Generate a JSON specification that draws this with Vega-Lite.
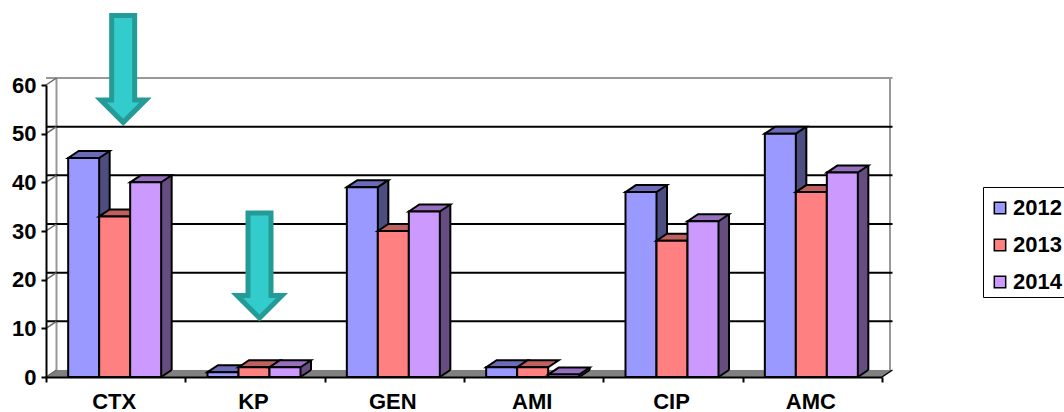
{
"$schema":"https://vega.github.io/schema/vega-lite/v6.json",
"width":836,"height":292,
"autosize":"none",
"padding":{"left":46,"top":85,"right":182,"bottom":35},
"background":"white",
"config":{"view":{"stroke":null},"font":"Liberation Sans"},
"datasets":{
"ticks":[{"v":10},{"v":20},{"v":30},{"v":40},{"v":50}],
"origin":[{"cat":"CTX","v":0}],
"arrow1":[{"cat":"CTX","v":51.6}],
"arrow2":[{"cat":"KP","v":11.4}]
},
"data":{"values":[
{"cat":"CTX","year":"2012","value":45},{"cat":"CTX","year":"2013","value":33},{"cat":"CTX","year":"2014","value":40},
{"cat":"KP","year":"2012","value":1},{"cat":"KP","year":"2013","value":2},{"cat":"KP","year":"2014","value":2},
{"cat":"GEN","year":"2012","value":39},{"cat":"GEN","year":"2013","value":30},{"cat":"GEN","year":"2014","value":34},
{"cat":"AMI","year":"2012","value":2},{"cat":"AMI","year":"2013","value":2},{"cat":"AMI","year":"2014","value":0.5},
{"cat":"CIP","year":"2012","value":38},{"cat":"CIP","year":"2013","value":28},{"cat":"CIP","year":"2014","value":32},
{"cat":"AMC","year":"2012","value":50},{"cat":"AMC","year":"2013","value":38},{"cat":"AMC","year":"2014","value":42}
]},
"encoding":{
"x":{"field":"cat","type":"nominal","sort":null,"title":null,
"scale":{"domain":["CTX","KP","GEN","AMI","CIP","AMC"],"paddingInner":0,"paddingOuter":0},
"axis":{"labelAngle":0,"labelFont":"Liberation Sans","labelFontWeight":"bold","labelFontSize":22,"labelColor":"black","labelOffset":-2,"labelPadding":9,"tickBand":"extent","tickColor":"black","tickWidth":2,"tickSize":5,"domainColor":"black","domainWidth":2,"zindex":1}},
"y":{"type":"quantitative","scale":{"domain":[0,60],"nice":false},"title":null,
"axis":{"values":[0,10,20,30,40,50,60],"labelFont":"Liberation Sans","labelFontWeight":"bold","labelFontSize":22,"labelColor":"black","labelPadding":5,"tickColor":"black","tickWidth":2,"tickSize":5,"domainColor":"black","domainWidth":2,"grid":false,"zindex":1}}
},
"layer":[
{"data":{"name":"origin"},"mark":{"type":"point","shape":"M0,0 L10.5,-7 L846.5,-7 L836,0 Z","size":4,"filled":true,"fill":"#808080","opacity":1,"strokeWidth":0},
 "encoding":{"x":{"field":"cat","type":"nominal","bandPosition":0},"y":{"field":"v","type":"quantitative"}}},
{"data":{"name":"origin"},"mark":{"type":"rule","color":"#999999","strokeWidth":2,"xOffset":10.5,"x2Offset":10.5,"yOffset":-7,"y2Offset":-7},
 "encoding":{"x":{"field":"cat","type":"nominal","bandPosition":0},"y":{"field":"v","type":"quantitative"},"y2":{"datum":60}}},
{"data":{"name":"origin"},"mark":{"type":"rule","color":"#999999","strokeWidth":2,"xOffset":844,"yOffset":-7,"y2Offset":-7},
 "encoding":{"x":{"field":"cat","type":"nominal","bandPosition":0},"y":{"field":"v","type":"quantitative"},"y2":{"datum":60}}},
{"data":{"name":"ticks"},"mark":{"type":"rule","color":"black","strokeWidth":2,"xOffset":10.5,"x2Offset":8,"yOffset":-7,"y2Offset":-7},
 "encoding":{"x":null,"y":{"field":"v","type":"quantitative"}}},
{"data":{"values":[{"v":60}]},"mark":{"type":"rule","color":"#999999","strokeWidth":2,"xOffset":10.5,"x2Offset":8,"yOffset":-7,"y2Offset":-7},
 "encoding":{"x":null,"y":{"field":"v","type":"quantitative"}}},
{"data":{"values":[{"cat":"CTX","v":0},{"cat":"CTX","v":10},{"cat":"CTX","v":20},{"cat":"CTX","v":30},{"cat":"CTX","v":40},{"cat":"CTX","v":50},{"cat":"CTX","v":60}]},
 "mark":{"type":"point","shape":"M0,0 L10.5,-7","size":4,"filled":false,"stroke":"#666666","opacity":1,"strokeWidth":1.5},
 "encoding":{"x":{"field":"cat","type":"nominal","bandPosition":0},"y":{"field":"v","type":"quantitative"}}},
{"data":{"name":"origin"},"mark":{"type":"point","shape":"M836,0 L846.5,-7","size":4,"filled":false,"stroke":"black","opacity":1,"strokeWidth":1.5},
 "encoding":{"x":{"field":"cat","type":"nominal","bandPosition":0},"y":{"field":"v","type":"quantitative"}}},

{"transform":[{"filter":"datum.year==='2012'"}],
 "encoding":{"y":{"field":"value","type":"quantitative"}},
 "layer":[
 {"mark":{"type":"bar","width":31,"fill":"#4D4D80","xOffset":-21.5,"yOffset":-7,"y2Offset":-7}},
 {"mark":{"type":"point","shape":"M15.5,-7 L26,-7 L15.5,0 Z","size":4,"filled":true,"fill":"#4D4D80","opacity":1,"strokeWidth":0,"xOffset":-32},"encoding":{"y":{"datum":0}}},
 {"mark":{"type":"point","shape":"M15.5,0 L26,-7","size":4,"filled":false,"stroke":"black","opacity":1,"strokeWidth":2,"xOffset":-32},"encoding":{"y":{"datum":0}}},
 {"mark":{"type":"rule","color":"black","strokeWidth":2,"xOffset":-6,"yOffset":-7,"y2Offset":-7},"encoding":{"y2":{"datum":0}}},
 {"mark":{"type":"point","shape":"M-15.5,0 L-5,-7 L26,-7 L15.5,0 Z","size":4,"filled":true,"fill":"#6B6BB8","stroke":"black","opacity":1,"strokeWidth":2,"xOffset":-32}},
 {"mark":{"type":"bar","width":31,"stroke":"black","strokeWidth":2,"xOffset":-32},"encoding":{"fill":{"field":"year","type":"nominal"}}}
 ]},
{"transform":[{"filter":"datum.year==='2013'"}],
 "encoding":{"y":{"field":"value","type":"quantitative"}},
 "layer":[
 {"mark":{"type":"point","shape":"M-15.5,0 L-5,-7 L26,-7 L15.5,0 Z","size":4,"filled":true,"fill":"#BF6060","stroke":"black","opacity":1,"strokeWidth":2,"xOffset":-1}},
 {"mark":{"type":"bar","width":31,"stroke":"black","strokeWidth":2,"xOffset":-1},"encoding":{"fill":{"field":"year","type":"nominal"}}}
 ]},
{"transform":[{"filter":"datum.year==='2014'"}],
 "encoding":{"y":{"field":"value","type":"quantitative"}},
 "layer":[
 {"mark":{"type":"bar","width":31,"fill":"#664D80","xOffset":40.5,"yOffset":-7,"y2Offset":-7}},
 {"mark":{"type":"point","shape":"M15.5,-7 L26,-7 L15.5,0 Z","size":4,"filled":true,"fill":"#664D80","opacity":1,"strokeWidth":0,"xOffset":30},"encoding":{"y":{"datum":0}}},
 {"mark":{"type":"point","shape":"M15.5,0 L26,-7","size":4,"filled":false,"stroke":"black","opacity":1,"strokeWidth":2,"xOffset":30},"encoding":{"y":{"datum":0}}},
 {"mark":{"type":"rule","color":"black","strokeWidth":2,"xOffset":56,"yOffset":-7,"y2Offset":-7},"encoding":{"y2":{"datum":0}}},
 {"mark":{"type":"point","shape":"M-15.5,0 L-5,-7 L26,-7 L15.5,0 Z","size":4,"filled":true,"fill":"#9670BF","stroke":"black","opacity":1,"strokeWidth":2,"xOffset":30}},
 {"mark":{"type":"bar","width":31,"stroke":"black","strokeWidth":2,"xOffset":30},"encoding":{"fill":{"field":"year","type":"nominal","scale":{"domain":["2012","2013","2014"],"range":["#9999FF","#FF8080","#CC99FF"]},"legend":{"title":" ","titleFontSize":4,"titlePadding":2,"orient":"none","legendX":937,"legendY":102,"symbolType":"square","symbolSize":130,"symbolStrokeColor":"black","symbolStrokeWidth":1.5,"symbolOpacity":1,"symbolOffset":2,"strokeColor":"black","fillColor":"white","padding":4,"rowPadding":15,"labelFont":"Liberation Sans","labelFontWeight":"bold","labelFontSize":22,"labelColor":"black","labelOffset":2}}}}
 ]},

{"data":{"name":"arrow1"},"mark":{"type":"point","shape":"M0,-3.5 L22.5,-26 L11.5,-26 L11.5,-110.5 L-11.5,-110.5 L-11.5,-26 L-22.5,-26 Z","size":4,"filled":true,"fill":"#33CCCC","stroke":"#259B97","strokeWidth":5,"opacity":1,"xOffset":7.5},
 "encoding":{"x":{"field":"cat","type":"nominal"},"y":{"field":"v","type":"quantitative"}}},
{"data":{"name":"arrow2"},"mark":{"type":"point","shape":"M0,-3.5 L22.5,-26 L11.5,-26 L11.5,-108.5 L-11.5,-108.5 L-11.5,-26 L-22.5,-26 Z","size":4,"filled":true,"fill":"#33CCCC","stroke":"#259B97","strokeWidth":5,"opacity":1,"xOffset":4.5},
 "encoding":{"x":{"field":"cat","type":"nominal"},"y":{"field":"v","type":"quantitative"}}}
]
}
